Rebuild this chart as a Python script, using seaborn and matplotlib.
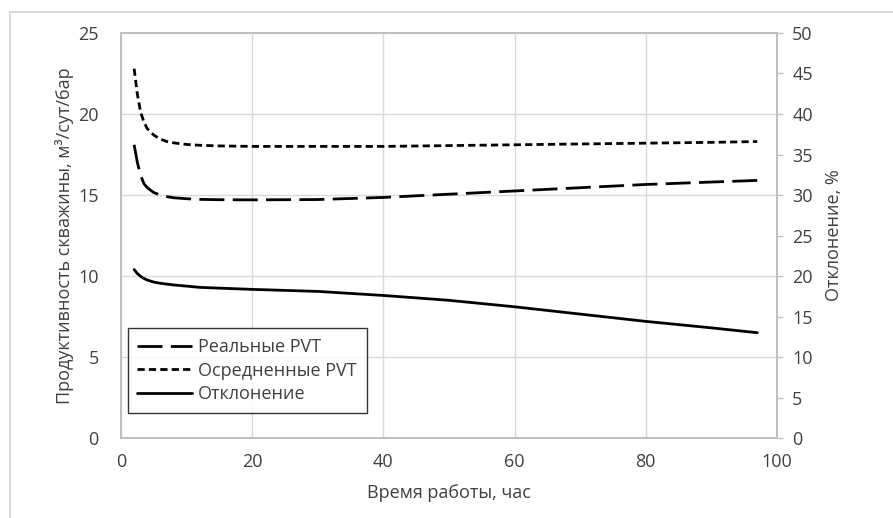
import numpy as np
import pandas as pd
import matplotlib
matplotlib.use("Agg")
import matplotlib.pyplot as plt
import seaborn as sns
from matplotlib.lines import Line2D

# time of operation, hours
hours = [2, 2.5, 3, 3.5, 4, 5, 6, 7, 8, 10, 12, 15, 20, 30, 40, 50, 60, 70, 80, 90, 97]
# productivity with real PVT, m3/day/bar
real_pvt = [18.1, 17.0, 16.2, 15.7, 15.45, 15.15, 15.0, 14.9, 14.83, 14.77, 14.73, 14.71,
            14.7, 14.72, 14.85, 15.05, 15.25, 15.45, 15.65, 15.8, 15.9]
# productivity with averaged PVT
avg_pvt = [22.8, 21.2, 20.1, 19.5, 19.1, 18.7, 18.45, 18.3, 18.22, 18.12, 18.07, 18.03,
           18.0, 18.0, 18.0, 18.05, 18.1, 18.15, 18.2, 18.25, 18.3]
# deviation, %
deviation = [20.8, 20.3, 19.95, 19.7, 19.5, 19.25, 19.1, 19.0, 18.9, 18.75, 18.6, 18.5,
             18.35, 18.1, 17.6, 17.0, 16.2, 15.3, 14.4, 13.6, 13.0]

labels = ["Реальные PVT", "Осредненные PVT", "Отклонение"]

df = pd.DataFrame({"hours": hours, "real": real_pvt, "avg": avg_pvt, "dev": deviation})

sns.set_style("white")
plt.rcParams["font.family"] = ["Open Sans", "DejaVu Sans"]
txt = "#404040"
fs = 13

fig = plt.figure(figsize=(8.93, 5.18), dpi=100)
ax = fig.add_axes([0.1355, 0.1544, 0.7345, 0.7819])
ax2 = ax.twinx()

sns.lineplot(data=df, x="hours", y="real", ax=ax, color="black", linewidth=2.0,
             linestyle=(0, (9, 3)), label=labels[0], legend=False)
sns.lineplot(data=df, x="hours", y="avg", ax=ax, color="black", linewidth=2.0,
             linestyle=(0, (2.6, 1.5)), label=labels[1], legend=False)
sns.lineplot(data=df, x="hours", y="dev", ax=ax2, color="black", linewidth=2.0,
             label=labels[2], legend=False)

ax.set_xlim(0, 100)
ax.set_ylim(0, 25)
ax2.set_ylim(0, 50)
ax.set_xticks(range(0, 101, 20))
ax.set_yticks(range(0, 26, 5))
ax2.set_yticks(range(0, 51, 5))

ax.grid(True, color="#d9d9d9", linewidth=1.0)
ax.set_axisbelow(True)

for a in (ax, ax2):
    for s in a.spines.values():
        s.set_color("#bfbfbf")
        s.set_linewidth(1.3)
ax.tick_params(axis="y", length=0, pad=16, labelsize=fs, labelcolor=txt)
ax.tick_params(axis="x", length=0, pad=11, labelsize=fs, labelcolor=txt)
ax2.tick_params(axis="y", length=4, width=1, color="#bfbfbf", pad=7, labelsize=fs,
                labelcolor=txt)

ax.set_xlabel("Время работы, час", fontsize=fs, color=txt, labelpad=9)
ax.set_ylabel("Продуктивность скважины, м³/сут/бар", fontsize=fs, color=txt, labelpad=3)
ax2.set_ylabel("Отклонение, %", fontsize=fs, color=txt, labelpad=9)

h1, _ = ax.get_legend_handles_labels()
h2, _ = ax2.get_legend_handles_labels()
leg = ax2.legend(h1 + h2, labels, loc="lower left", bbox_to_anchor=(0.01, 0.062),
                 frameon=True, fancybox=False, fontsize=fs, handlelength=3.0,
                 handletextpad=0.35, borderpad=0.55, labelspacing=0.3,
                 borderaxespad=0)
leg.get_frame().set_edgecolor("black")
leg.get_frame().set_linewidth(1.0)
for t in leg.get_texts():
    t.set_color(txt)

# thin outer frame lines (top and left) as in the source picture
fig.add_artist(Line2D([10 / 893, 1], [1 - 12 / 518, 1 - 12 / 518], color="#d9d9d9", lw=1.5))
fig.add_artist(Line2D([10 / 893, 10 / 893], [0, 1 - 12 / 518], color="#d9d9d9", lw=1.5))

fig.savefig("out.png", dpi=100)
